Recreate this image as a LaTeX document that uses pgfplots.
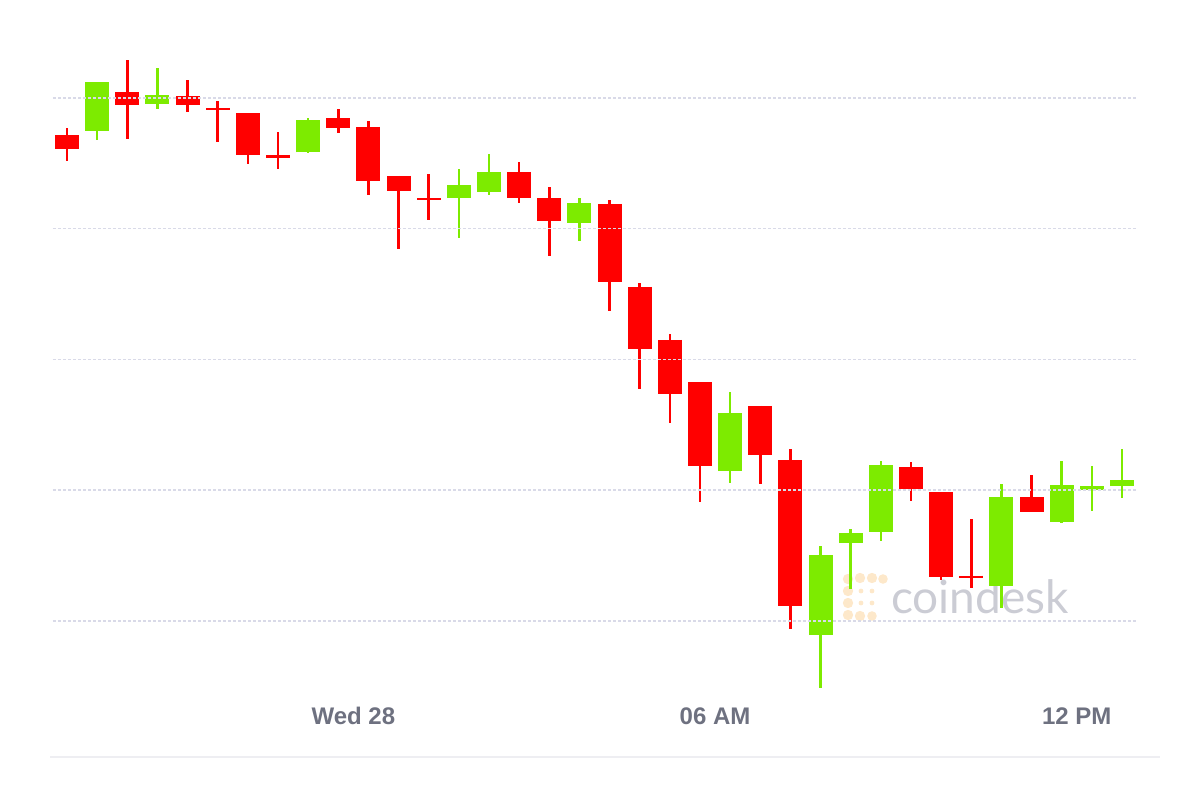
\documentclass[border=0pt]{standalone}
\usepackage{fontspec}
\setmainfont{Liberation Sans}
\newfontfamily\latofont{Lato}
\usepackage{pgfplots}
\usepackage{pgfplotstable}
\pgfplotsset{compat=1.18}
\definecolor{candleRed}{HTML}{FF0000}
\definecolor{candleGreen}{HTML}{7DEB00}
\definecolor{gridC}{HTML}{D9DAE8}
\definecolor{labelC}{HTML}{6E7180}
\definecolor{wmText}{HTML}{CBCCD4}
\definecolor{wmLogo}{HTML}{FDE8CA}
\definecolor{baseC}{HTML}{EEEEF2}

% x = hours from Wed 28 00:00 (30-min candles), o h l c = price
\pgfplotstableread{
x o h l c
-4.75 13743 13754 13704 13722
-3.75 13809 13858 13737 13789
-2.75 13803 13828 13779 13789
-2.25 13785 13795 13733 13782
-1.75 13777 13777 13699 13713
-1.25 13713 13748 13691 13708
-0.25 13769 13783 13746 13754
0.25 13756 13765 13652 13673
0.75 13681 13681 13569 13658
1.25 13647 13684 13613 13644
2.75 13687 13702 13639 13647
3.25 13647 13664 13558 13612
4.25 13638 13644 13474 13518
4.75 13511 13517 13355 13416
5.25 13430 13439 13303 13347
5.75 13365 13365 13182 13237
6.75 13329 13329 13209 13254
7.25 13246 13263 12987 13023
9.25 13235 13243 13183 13202
9.75 13197 13197 13062 13067
10.25 13069 13156 13050 13066
11.25 13189 13223 13167 13167
}\redtable

\pgfplotstableread{
x o h l c
-4.25 13750 13825 13736 13825
-3.25 13791 13846 13783 13805
-0.75 13717 13769 13716 13766
1.75 13647 13691 13586 13667
2.25 13656 13714 13652 13687
3.75 13609 13647 13581 13639
6.25 13229 13350 13211 13318
7.75 12978 13115 12897 13101
8.25 13119 13140 13049 13134
8.75 13136 13245 13122 13238
10.75 13053 13209 13020 13189
11.75 13151 13245 13150 13208
12.25 13200 13237 13168 13206
12.75 13206 13263 13188 13215
}\greentable

\begin{document}
\begin{tikzpicture}
% watermark (behind the candles)
\foreach \px/\py/\r in {848/579/2.6,860/578/2.6,872/578/2.6,883/579/2.4,
  848/591/2.6,848/603/2.6,848/615/2.6,860/616/2.6,872/616/2.4,
  861/591/1.2,872/591/1.2,861/603/1.2,872/603/1.2}{
  \fill[wmLogo] (\px*0.5pt,{(809-\py)*0.5pt}) circle (\r pt);
}
\node[anchor=center,text=wmText,font=\latofont\fontsize{23}{23}\selectfont,inner sep=0pt] at (490pt,106pt) {coindesk};

\begin{axis}[
  at={(26.5pt,26pt)}, anchor=south west,
  scale only axis, width=542.5pt, height=353.5pt,
  xmin=-4.982, xmax=13.015,
  ymin=12791.6, ymax=13873.5,
  axis line style={draw=none},
  major tick length=0pt,
  xtick={0,6,12},
  xticklabels={Wed 28,06 AM,12 PM},
  xticklabel style={anchor=base, yshift=16pt, text=labelC, font=\bfseries\fontsize{12}{12}\selectfont},
  ytick={13000,13200,13400,13600,13800},
  yticklabels={},
  scaled y ticks=false,
  ymajorgrids,
  grid style={gridC, line width=0.7pt, dash pattern=on 1.5pt off 1pt},
  axis on top,
  clip=false,
]
% wicks
\addplot[draw=none, mark=none,
  error bars/.cd, y dir=both, y explicit, error mark=none,
  error bar style={draw=candleRed, line width=1.25pt}]
  table[x=x, y=o, y error plus expr={\thisrow{h}-\thisrow{o}}, y error minus expr={\thisrow{o}-\thisrow{l}}] {\redtable};
\addplot[draw=none, mark=none,
  error bars/.cd, y dir=both, y explicit, error mark=none,
  error bar style={draw=candleGreen, line width=1.25pt}]
  table[x=x, y=o, y error plus expr={\thisrow{h}-\thisrow{o}}, y error minus expr={\thisrow{o}-\thisrow{l}}] {\greentable};
% bodies
\addplot[draw=none, mark=none,
  error bars/.cd, y dir=both, y explicit, error mark=none,
  error bar style={draw=candleRed, line width=12pt}]
  table[x=x, y=o, y error plus expr={max(\thisrow{c}-\thisrow{o},0)}, y error minus expr={max(\thisrow{o}-\thisrow{c},0)}] {\redtable};
\addplot[draw=none, mark=none,
  error bars/.cd, y dir=both, y explicit, error mark=none,
  error bar style={draw=candleGreen, line width=12pt}]
  table[x=x, y=o, y error plus expr={max(\thisrow{c}-\thisrow{o},0)}, y error minus expr={max(\thisrow{o}-\thisrow{c},0)}] {\greentable};
\end{axis}
\draw[baseC, line width=0.8pt] (25pt,26pt) -- (580pt,26pt);
\pgfresetboundingbox
\useasboundingbox (0,0) rectangle (600pt,404.5pt);
\end{tikzpicture}
\end{document}
